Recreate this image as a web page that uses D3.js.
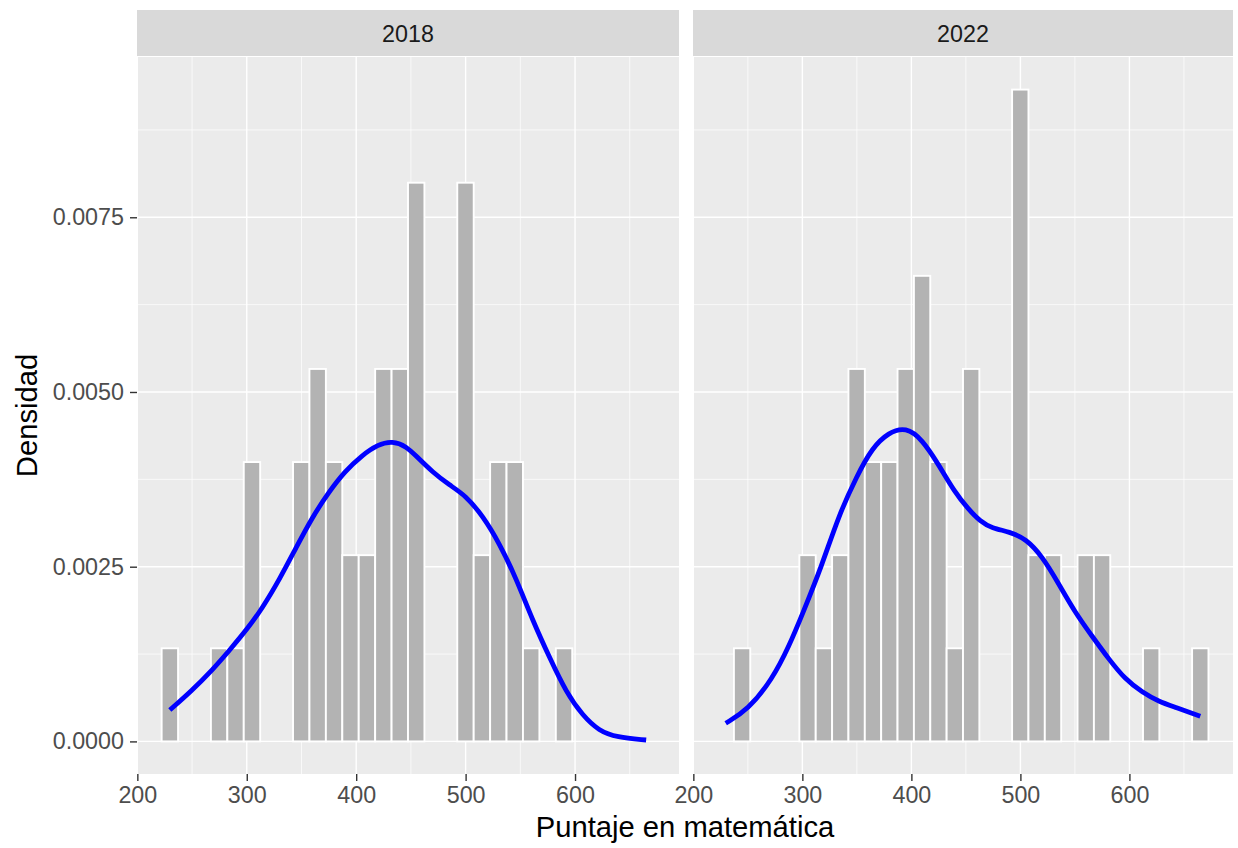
<!DOCTYPE html>
<html>
<head>
<meta charset="utf-8">
<script src="https://cdn.jsdelivr.net/npm/d3@7"></script>
<style>
  body { margin: 0; background: #fff; }
  text { font-family: "Liberation Sans", Arial, sans-serif; }
</style>
</head>
<body>
<script>
// facets
var years = ['2018', '2022'];
var nStudents = 50;

// histogram bins (30 bins shared by both facets)
var binStart = 222.2;
var binWidth = 15.01;
var counts2018 = [1,0,0,1,1,3,0,0,3,4,3,2,2,4,4,6,0,0,6,2,3,3,1,0,1,0,0,0,0,0];
var counts2022 = [0,1,0,0,0,2,1,2,4,3,3,4,5,3,1,4,0,0,7,2,2,0,2,2,0,0,1,0,0,1];

// density curves: [puntaje, densidad]
var dens2018 = [[229.7,0.00045],[250,0.00073],[269,0.00103],[284,0.0013],[300,0.0016],[314,0.0019],
  [330,0.00232],[345,0.00277],[360,0.00321],[375,0.00357],[390,0.00387],[405,0.00409],[420,0.00425],
  [433,0.0043],[446,0.00422],[455,0.00408],[470,0.00385],[485,0.00367],[500,0.00352],[516,0.00322],
  [531,0.00283],[546,0.00234],[561,0.00174],[577,0.00119],[592,0.0007],[607,0.00037],[622,0.00015],
  [638,0.00006],[665,0.00002]];
var dens2022 = [[229.7,0.00026],[250,0.00045],[272.5,0.00089],[288,0.00137],[300,0.00182],[318,0.00252],
  [333,0.00322],[350,0.0038],[364,0.0042],[379,0.00442],[395,0.0045],[410,0.00432],[425,0.00396],
  [440,0.00356],[452,0.00333],[463,0.00315],[474,0.00305],[490,0.003],[505,0.0029],[520,0.00265],
  [535,0.00226],[550,0.00185],[566,0.0015],[581,0.00118],[596,0.00089],[612,0.0007],[627,0.00057],
  [642,0.00049],[665,0.00036]];

// axis ticks
var xTicks = [200, 300, 400, 500, 600];
var xMinor = [250, 350, 450, 550, 650];
var yTicks = [0, 0.0025, 0.005, 0.0075];
var yMinor = [0.00125, 0.00375, 0.00625, 0.00875];

var counts = [counts2018, counts2022];
var dens = [dens2018, dens2022];

var width = 1238, height = 848;
var panels = [{x0: 137, x1: 679}, {x0: 693, x1: 1233}];
var panelTop = 57, panelBottom = 774, stripTop = 10;

var svg = d3.select('body').append('svg').attr('width', width).attr('height', height);
svg.append('rect').attr('width', width).attr('height', height).attr('fill', '#fff');

var lo = binStart, hi = binStart + counts2018.length * binWidth;
var pad = (hi - lo) * 0.05;

var maxD = d3.max(counts.map(function (c) { return d3.max(c); })) / (nStudents * binWidth);
var y = d3.scaleLinear().domain([-maxD * 0.05, maxD * 1.05]).range([panelBottom, panelTop]);

panels.forEach(function (p, i) {
  var x = d3.scaleLinear().domain([lo - pad, hi + pad]).range([p.x0, p.x1]);
  var g = svg.append('g');

  // strip
  g.append('rect').attr('x', p.x0).attr('y', stripTop).attr('width', p.x1 - p.x0)
    .attr('height', panelTop - 1 - stripTop).attr('fill', '#D9D9D9');
  g.append('text').attr('x', (p.x0 + p.x1) / 2).attr('y', 41.5).attr('text-anchor', 'middle')
    .attr('font-size', 23.3).attr('fill', '#1A1A1A').text(years[i]);

  // panel background and grid
  g.append('rect').attr('x', p.x0).attr('y', panelTop).attr('width', p.x1 - p.x0)
    .attr('height', panelBottom - panelTop).attr('fill', '#EBEBEB');
  yMinor.forEach(function (v) {
    g.append('line').attr('x1', p.x0).attr('x2', p.x1).attr('y1', y(v)).attr('y2', y(v))
      .attr('stroke', '#fff').attr('stroke-width', 0.7);
  });
  xMinor.forEach(function (v) {
    g.append('line').attr('x1', x(v)).attr('x2', x(v)).attr('y1', panelTop).attr('y2', panelBottom)
      .attr('stroke', '#fff').attr('stroke-width', 0.7);
  });
  yTicks.forEach(function (v) {
    g.append('line').attr('x1', p.x0).attr('x2', p.x1).attr('y1', y(v)).attr('y2', y(v))
      .attr('stroke', '#fff').attr('stroke-width', 1.4);
  });
  xTicks.forEach(function (v) {
    g.append('line').attr('x1', x(v)).attr('x2', x(v)).attr('y1', panelTop).attr('y2', panelBottom)
      .attr('stroke', '#fff').attr('stroke-width', 1.4);
  });

  // histogram
  var bins = counts[i].map(function (c, k) {
    return {x0: binStart + k * binWidth, x1: binStart + (k + 1) * binWidth, d: c / (nStudents * binWidth)};
  }).filter(function (b) { return b.d > 0; });

  g.selectAll('rect.bar')
    .data(bins)
    .enter()
    .append('rect')
    .attr('class', 'bar')
    .attr('x', function (b) { return x(b.x0); })
    .attr('width', function (b) { return x(b.x1) - x(b.x0); })
    .attr('y', function (b) { return y(b.d); })
    .attr('height', function (b) { return y(0) - y(b.d); })
    .attr('fill', '#B3B3B3')
    .attr('stroke', '#fff')
    .attr('stroke-width', 1.9);

  // density line
  var line = d3.line()
    .x(function (d) { return x(d[0]); })
    .y(function (d) { return y(d[1]); })
    .curve(d3.curveBasis);
  g.append('path').datum(dens[i]).attr('d', line)
    .attr('fill', 'none').attr('stroke', '#0000FF').attr('stroke-width', 4.8);

  // x axis
  var xAxis = g.append('g').attr('transform', 'translate(0,' + panelBottom + ')')
    .call(d3.axisBottom(x).tickValues(xTicks).tickSize(7).tickPadding(5));
  xAxis.select('.domain').remove();
  xAxis.selectAll('line').attr('stroke', '#333333').attr('stroke-width', 1.4);
  xAxis.selectAll('text').attr('font-size', 23.3).attr('fill', '#4D4D4D')
    .attr('font-family', '"Liberation Sans", Arial, sans-serif');

  if (i === 0) {
    var yAxis = g.append('g').attr('transform', 'translate(' + p.x0 + ',0)')
      .call(d3.axisLeft(y).tickValues(yTicks).tickFormat(d3.format('.4f')).tickSize(7).tickPadding(6));
    yAxis.select('.domain').remove();
    yAxis.selectAll('line').attr('stroke', '#333333').attr('stroke-width', 1.4);
    yAxis.selectAll('text').attr('font-size', 23.3).attr('fill', '#4D4D4D')
      .attr('font-family', '"Liberation Sans", Arial, sans-serif');
  }
});

// axis titles
svg.append('text').attr('x', (panels[0].x0 + panels[1].x1) / 2).attr('y', 837)
  .attr('text-anchor', 'middle').attr('font-size', 29.2).attr('fill', '#000')
  .text('Puntaje en matemática');
svg.append('text').attr('transform', 'translate(37,' + (panelTop + panelBottom) / 2 + ') rotate(-90)')
  .attr('text-anchor', 'middle').attr('font-size', 29.2).attr('fill', '#000')
  .text('Densidad');
</script>
</body>
</html>
